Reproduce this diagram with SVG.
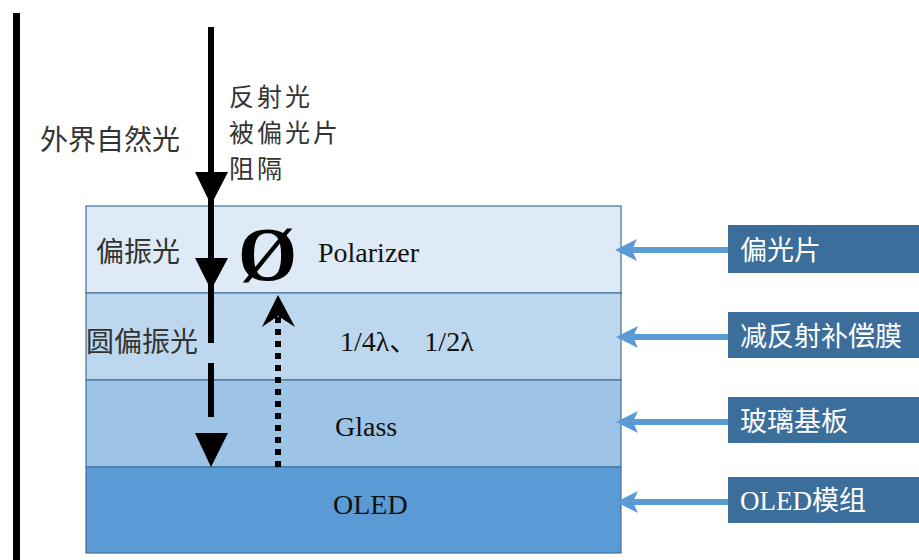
<svg xmlns="http://www.w3.org/2000/svg" width="919" height="560" viewBox="0 0 919 560">
<defs>
<style>
.cjk{font-family:"Noto Sans CJK SC","Noto Sans",sans-serif;font-size:28px;fill:#333}
.stk{font-size:25px;letter-spacing:3px}
.ser{font-family:"Liberation Serif","Noto Sans CJK SC",serif;font-size:28px;fill:#111}
.lbl{font-family:"Liberation Serif","Noto Sans CJK SC",serif;font-size:27px;fill:#fff}
.lz{font-family:"Noto Sans CJK SC",sans-serif;font-size:27px}
.lyr{stroke:#41719C;stroke-width:1.2}
.box{fill:#3C6E9B}
.barr{stroke:#5B9BD5;stroke-width:6}
</style>
</defs>
<rect width="919" height="560" fill="#fff"/>
<g id="layers">
<g id="polarizer"><rect class="lyr" x="86" y="206" width="535" height="87" fill="#DEEBF7"/><text class="ser" x="318" y="262">Polarizer</text></g>
<g id="film"><rect class="lyr" x="86" y="293" width="535" height="87" fill="#BDD7EE"/><text class="ser" x="340" y="351">1/4λ、 1/2λ</text></g>
<g id="glass"><rect class="lyr" x="86" y="380" width="535" height="87" fill="#9DC3E6"/><text class="ser" x="335" y="436">Glass</text></g>
<g id="oled"><rect class="lyr" x="86" y="467" width="535" height="86" fill="#5B9BD5"/><text class="ser" x="333" y="514">OLED</text></g>
</g>
<g id="labels">
<g id="lbl1"><rect class="box" x="728" y="225" width="191" height="48"/><text class="lbl lz" x="740" y="260">偏光片</text></g>
<g id="lbl2"><rect class="box" x="728" y="312" width="191" height="46"/><text class="lbl lz" x="740" y="346">减反射补偿膜</text></g>
<g id="lbl3"><rect class="box" x="728" y="397" width="191" height="46"/><text class="lbl lz" x="740" y="431">玻璃基板</text></g>
<g id="lbl4"><rect class="box" x="728" y="477" width="191" height="46"/><text class="lbl" x="740" y="510">OLED<tspan class="lz">模组</tspan></text></g>
</g>
<g id="texts">
<text class="cjk" x="40" y="150">外界自然光</text>
<text class="cjk stk" x="229" y="106">反射光</text>
<text class="cjk stk" x="229" y="142">被偏光片</text>
<text class="cjk stk" x="229" y="178">阻隔</text>
<text class="cjk" x="96" y="262">偏振光</text>
<text class="cjk" x="86" y="352">圆偏振光</text>
<text x="238" y="280" style="font-family:'Liberation Serif',serif;font-size:76px;font-weight:bold;fill:#000">Ø</text>
</g>
<g id="connectors">
<rect x="13" y="13" width="7" height="547" fill="#000"/>
<line x1="211" y1="27" x2="211" y2="343" stroke="#000" stroke-width="6"/>
<polygon points="195,172 228,172 211,205" fill="#000"/>
<polygon points="195,258 228,258 211,290" fill="#000"/>
<line x1="211" y1="363" x2="211" y2="417" stroke="#000" stroke-width="6"/>
<polygon points="195,433 228,433 211,467" fill="#000"/>
<line x1="278" y1="467" x2="278" y2="310" stroke="#000" stroke-width="6" stroke-dasharray="6,6"/>
<polygon points="278,295 295,327 278,316 262,327" fill="#000"/>
<line class="barr" x1="728" y1="250" x2="632" y2="250"/>
<polygon points="615,250 637,239 632,250 637,261" fill="#5B9BD5"/>
<line class="barr" x1="728" y1="337" x2="632" y2="337"/>
<polygon points="616,337 638,326 633,337 638,348" fill="#5B9BD5"/>
<line class="barr" x1="728" y1="422" x2="632" y2="422"/>
<polygon points="616,422 638,411 633,422 638,433" fill="#5B9BD5"/>
<line class="barr" x1="728" y1="502" x2="632" y2="502"/>
<polygon points="616,502 638,491 633,502 638,513" fill="#5B9BD5"/>
</g>
</svg>
